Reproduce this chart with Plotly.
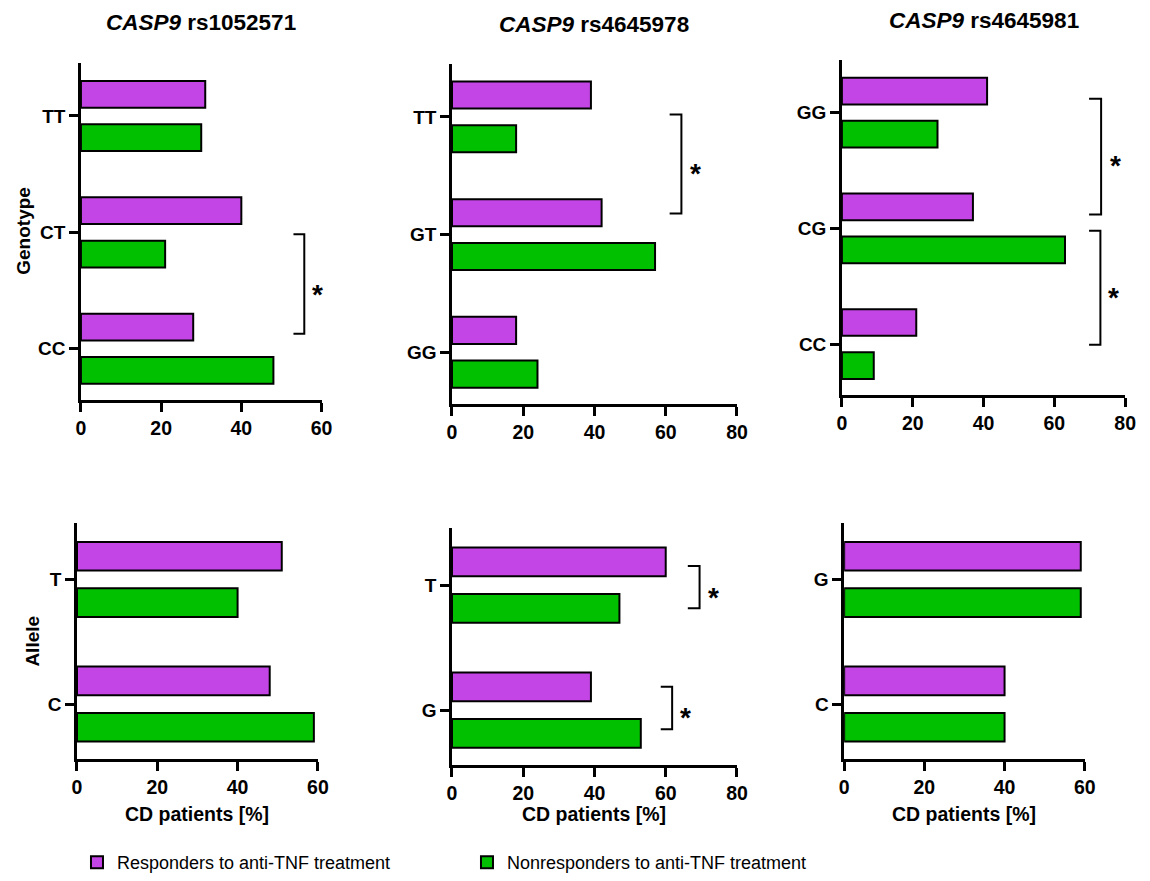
import plotly.graph_objects as go

# ---------------- data ----------------
series_names = ["Responders to anti-TNF treatment", "Nonresponders to anti-TNF treatment"]

snp_titles = ["rs1052571", "rs4645978", "rs4645981"]

genotypes_rs1052571 = ["CC", "CT", "TT"]
resp_geno_rs1052571 = [28, 40, 31]
nonresp_geno_rs1052571 = [48, 21, 30]

genotypes_rs4645978 = ["GG", "GT", "TT"]
resp_geno_rs4645978 = [18, 42, 39]
nonresp_geno_rs4645978 = [24, 57, 18]

genotypes_rs4645981 = ["CC", "CG", "GG"]
resp_geno_rs4645981 = [21, 37, 41]
nonresp_geno_rs4645981 = [9, 63, 27]

alleles_rs1052571 = ["C", "T"]
resp_allele_rs1052571 = [48, 51]
nonresp_allele_rs1052571 = [59, 40]

alleles_rs4645978 = ["G", "T"]
resp_allele_rs4645978 = [39, 60]
nonresp_allele_rs4645978 = [53, 47]

alleles_rs4645981 = ["C", "G"]
resp_allele_rs4645981 = [40, 59]
nonresp_allele_rs4645981 = [40, 59]

x_ticks_60 = [0, 20, 40, 60]
x_ticks_80 = [0, 20, 40, 60, 80]

# ---------------- styling ----------------
W, H = 1150, 881
PURPLE = "#C445E6"
GREEN = "#00C000"
FONT = "Liberation Sans, Arial, sans-serif"

panels = [
    # categories, resp, nonresp, xmax, ticks, (x0px, x1px), (ytop, ybottom), yrange
    (genotypes_rs1052571, resp_geno_rs1052571, nonresp_geno_rs1052571, 60, x_ticks_60, (77, 321), (63, 400), [-0.44, 2.455]),
    (genotypes_rs4645978, resp_geno_rs4645978, nonresp_geno_rs4645978, 80, x_ticks_80, (453.3, 742.3), (64, 404), [-0.44, 2.45]),
    (genotypes_rs4645981, resp_geno_rs4645981, nonresp_geno_rs4645981, 80, x_ticks_80, (848.7, 1136), (60, 395), [-0.44, 2.455]),
    (alleles_rs1052571, resp_allele_rs1052571, nonresp_allele_rs1052571, 60, x_ticks_60, (73, 317.3), (523.3, 759.3), [-0.443, 1.45]),
    (alleles_rs4645978, resp_allele_rs4645978, nonresp_allele_rs4645978, 80, x_ticks_80, (453.3, 742.3), (528.3, 765), [-0.44, 1.454]),
    (alleles_rs4645981, resp_allele_rs4645981, nonresp_allele_rs4645981, 60, x_ticks_60, (851, 1095), (523.3, 759.3), [-0.443, 1.45]),
]

BAR_W = 0.23
fig = go.Figure()
layout = {}
for i, (cats, resp, nonresp, xmax, ticks, (px0, px1), (pyt, pyb), yr) in enumerate(panels, start=1):
    xa = "x" if i == 1 else f"x{i}"
    ya = "y" if i == 1 else f"y{i}"
    fig.add_trace(go.Bar(
        x=resp, y=cats, orientation="h", name=series_names[0],
        xaxis=xa, yaxis=ya, width=BAR_W, offset=0.071,
        marker=dict(color=PURPLE, line=dict(color="black", width=2)),
        showlegend=(i == 1), legendgroup="r", legendrank=1,
    ))
    fig.add_trace(go.Bar(
        x=nonresp, y=cats, orientation="h", name=series_names[1],
        xaxis=xa, yaxis=ya, width=BAR_W, offset=-0.301,
        marker=dict(color=GREEN, line=dict(color="black", width=2)),
        showlegend=(i == 1), legendgroup="n", legendrank=2,
    ))
    key_x = "xaxis" if i == 1 else f"xaxis{i}"
    key_y = "yaxis" if i == 1 else f"yaxis{i}"
    layout[key_x] = dict(
        domain=[px0 / W, px1 / W], range=[0, xmax], anchor=ya,
        showline=True, linewidth=2.5, linecolor="black",
        ticks="outside", ticklen=9, tickwidth=2.5, tickcolor="black",
        tickvals=ticks, showgrid=False, zeroline=False,
        tickfont=dict(family=FONT, size=19.5, color="black", weight="bold"),
        fixedrange=True,
    )
    layout[key_y] = dict(
        domain=[1 - pyb / H, 1 - pyt / H], range=yr, anchor=xa,
        type="category", categoryorder="array", categoryarray=cats,
        showline=True, linewidth=2.5, linecolor="black",
        ticks="outside", ticklen=9, tickwidth=2.5, tickcolor="black",
        showgrid=False, zeroline=False,
        tickfont=dict(family=FONT, size=19, color="black", weight="bold"),
        fixedrange=True,
    )

fig.update_layout(**layout)

# significance brackets: panel, bracket x, tick start x, y top, y bottom, star x, star y
brackets = [
    (1, 55.7, 53.0, 0.983, 0.129, 59.1, 0.53),
    (2, 64.4, 61.1, 2.02, 1.18, 68.3, 1.58),
    (3, 73.2, 69.8, 2.12, 1.12, 77.2, 1.60),
    (3, 73.0, 69.8, 0.98, -0.006, 76.7, 0.46),
    (5, 69.5, 66.2, 1.152, 0.814, 73.4, 0.96),
    (5, 61.8, 58.6, 0.186, -0.154, 65.5, 0.0),
]
shapes = []
annotations = []
for (p, bx, tx, yt, yb, sx, sy) in brackets:
    xr = "x" if p == 1 else f"x{p}"
    yrf = "y" if p == 1 else f"y{p}"
    shapes.append(dict(
        type="path", xref=xr, yref=yrf,
        path=f"M {tx},{yt} L {bx},{yt} L {bx},{yb} L {tx},{yb}",
        line=dict(color="black", width=2),
    ))
    annotations.append(dict(
        x=sx, y=sy, xref=xr, yref=yrf, text="*", showarrow=False,
        font=dict(family=FONT, size=28, color="black", weight="bold"),
        xanchor="center", yanchor="middle", yshift=-7,
    ))

# panel titles
for p, snp in enumerate(snp_titles, start=1):
    xr = "x domain" if p == 1 else f"x{p} domain"
    ty = [23, 24, 20][p - 1]
    annotations.append(dict(
        x=0.5, xref=xr, y=1 - ty / H, yref="paper",
        text=f"<b><i>CASP9</i> {snp}</b>", showarrow=False,
        font=dict(family=FONT, size=22.5, color="black"),
        xanchor="center", yanchor="middle",
    ))

# axis titles
annotations.append(dict(x=19 / W, y=1 - 231 / H, xref="paper", yref="paper",
                        text="<b>Genotype</b>", textangle=-90, showarrow=False,
                        font=dict(family=FONT, size=19, color="black"),
                        xanchor="center", yanchor="middle"))
annotations.append(dict(x=27 / W, y=1 - 641 / H, xref="paper", yref="paper",
                        text="<b>Allele</b>", textangle=-90, showarrow=False,
                        font=dict(family=FONT, size=19, color="black"),
                        xanchor="center", yanchor="middle"))
for p in (4, 5, 6):
    annotations.append(dict(x=0.5, xref=f"x{p} domain", y=1 - 814 / H, yref="paper",
                            text="<b>CD patients [%]</b>", showarrow=False,
                            font=dict(family=FONT, size=19.5, color="black"),
                            xanchor="center", yanchor="middle"))

fig.update_layout(
    width=W, height=H,
    margin=dict(l=0, r=0, t=0, b=0),
    paper_bgcolor="white", plot_bgcolor="white",
    barmode="overlay",
    shapes=shapes, annotations=annotations,
    showlegend=True,
    legend=dict(
        orientation="h", x=73 / W, xanchor="left", y=0, yanchor="bottom",
        font=dict(family=FONT, size=18, color="black"),
        entrywidth=345, entrywidthmode="pixels",
        bgcolor="rgba(0,0,0,0)", traceorder="normal",
    ),
)

fig.write_html("out.html", post_script="document.body.style.margin='0';",
               config={"displayModeBar": False})
